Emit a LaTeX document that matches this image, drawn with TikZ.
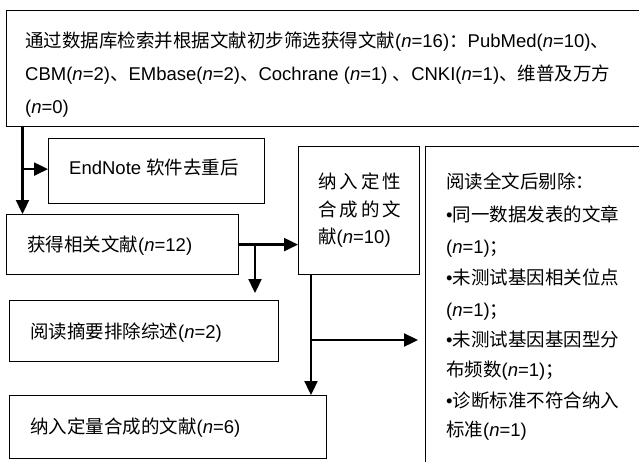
\documentclass[tikz,border=0pt]{standalone}
\usepackage{fontspec}
\setmainfont{Liberation Sans}
\newfontfamily\cjkfont{Noto Sans CJK SC}
\newcommand\zh[1]{{\cjkfont #1}}
\newcommand\nn{\textit{n}}
\usetikzlibrary{arrows.meta}
\begin{document}
\begin{tikzpicture}[x=1pt,y=-1pt,
  box/.style={draw=black, line width=1.2pt, rectangle, inner sep=0pt, anchor=north west},
  txt/.style={anchor=base west, inner sep=0pt, font=\fontsize{18.5}{22}\selectfont, text=black},
  arr/.style={line width=2.3pt, -{Triangle[length=14pt,width=13pt]}}]
\clip (0,0) rectangle (639,461);
% boxes
\node[box, minimum width=640pt, minimum height=116pt] (top) at (6,10) {};
\node[box, minimum width=216pt, minimum height=65pt] (endnote) at (48,138) {};
\node[box, minimum width=232pt, minimum height=60pt] (get) at (6,214) {};
\node[box, minimum width=121pt, minimum height=128pt] (qual) at (298,146) {};
\node[box, minimum width=230pt, minimum height=330pt] (excl) at (425,146) {};
\node[box, minimum width=269pt, minimum height=61pt] (abs) at (9,300) {};
\node[box, minimum width=317pt, minimum height=63pt] (quant) at (9,395) {};
% texts
\node[txt] (t1) at (25,47) {\zh{通过数据库检索并根据文献初步筛选获得文献}(\nn=16)\zh{：}PubMed(\nn=10)\zh{、}};
\node[txt] (t2) at (25,80) {CBM(\nn=2)\zh{、}EMbase(\nn=2)\zh{、}Cochrane (\nn=1) \zh{、}CNKI(\nn=1)\zh{、维普及万方}};
\node[txt] (t3) at (25,113.5) {(\nn=0)};
\node[txt] (te) at (69,174.5) {EndNote \zh{软件去重后}};
\node[txt] (tg) at (27,251.5) {\zh{获得相关文献}(\nn=12)};
\node[txt] (q1) at (318,188.5) {\zh{纳}\hspace{3pt}\zh{入}\hspace{3pt}\zh{定}\hspace{3pt}\zh{性}};
\node[txt] (q2) at (318,216.5) {\zh{合}\hspace{3pt}\zh{成}\hspace{3pt}\zh{的}\hspace{3pt}\zh{文}};
\node[txt] (q3) at (318,243.5) {\zh{献}(\nn=10)};
\node[txt] (r1) at (446,188.5) {\zh{阅读全文后剔除：}};
\node[txt] (r2) at (446,221.5) {•\zh{同一数据发表的文章}};
\node[txt] (r3) at (446,253.5) {(\nn=1)\zh{；}};
\node[txt] (r4) at (446,284.5) {•\zh{未测试基因相关位点}};
\node[txt] (r5) at (446,316.5) {(\nn=1)\zh{；}};
\node[txt] (r6) at (446,346.5) {•\zh{未测试基因基因型分}};
\node[txt] (r7) at (446,376.5) {\zh{布频数}(\nn=1)\zh{；}};
\node[txt] (r8) at (446,407.5) {•\zh{诊断标准不符合纳入}};
\node[txt] (r9) at (446,436.5) {\zh{标准}(\nn=1)};
\node[txt] (ta) at (30,338.5) {\zh{阅读摘要排除综述}(\nn=2)};
\node[txt] (tq) at (30,433.5) {\zh{纳入定量合成的文献}(\nn=6)};
% connectors
\coordinate (c1) at (22.5,0);
\coordinate (c2) at (255,0);
\coordinate (c3) at (311,0);
\coordinate (c4) at (0,340);
\draw[arr] (top.south -| c1) -- (get.north -| c1);
\draw[arr] ([yshift=2pt]c1 |- endnote.west) -- ([yshift=2pt]endnote.west);
\draw[arr] (get.east) -- (get.east -| qual.west);
\draw[arr] (get.east -| c2) -- ([yshift=7pt]abs.north -| c2);
\draw[arr] (qual.south -| c3) -- (quant.north -| c3);
\draw[arr] (c3 |- c4) -- ([xshift=-7pt]c4 -| excl.west);
\end{tikzpicture}
\end{document}
